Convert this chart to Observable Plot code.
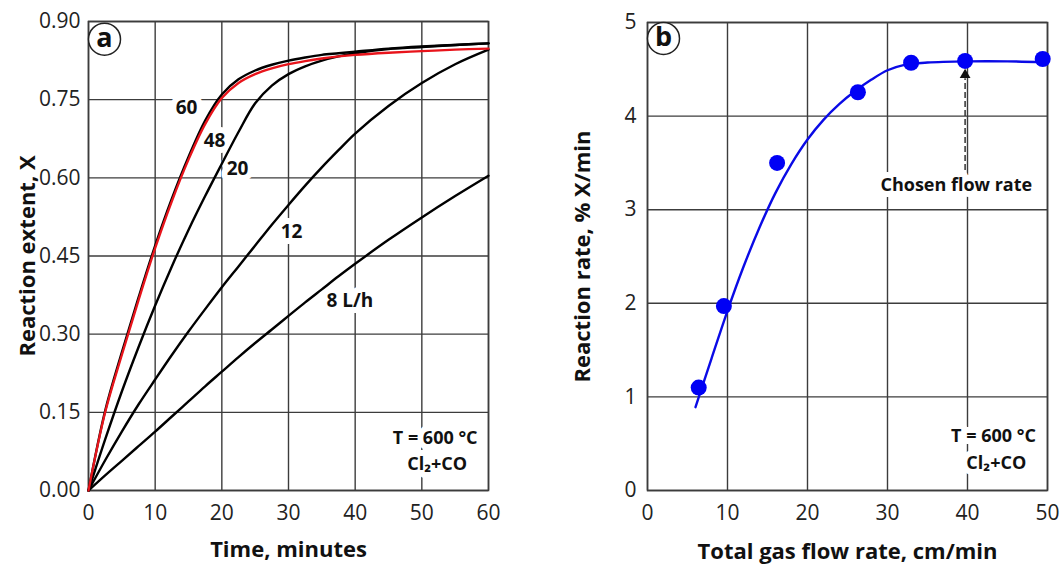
<!DOCTYPE html>
<html><head><meta charset="utf-8">
<script src="https://cdn.jsdelivr.net/npm/d3@7"></script>
<script src="https://cdn.jsdelivr.net/npm/@observablehq/plot@0.6"></script>
<style>
html,body{margin:0;padding:0;background:#fff;}
#wrap{position:relative;width:1061px;height:565px;overflow:hidden;background:#fff;}
#wrap svg{position:absolute;top:0;}
</style></head><body><div id="wrap"></div>
<script>
// ---------- Panel a: reaction extent vs time ----------
const timeA  = [0, 2.5, 5, 7.5, 10, 12.5, 15, 17.5, 20, 22.5, 25, 27.5, 30, 32.5, 35, 37.5, 40, 45, 50, 55, 60];
const flow60 = [0, 0.15, 0.26, 0.365, 0.465, 0.555, 0.635, 0.703, 0.753, 0.782, 0.799, 0.81, 0.818, 0.824, 0.829, 0.833, 0.836, 0.84, 0.843, 0.846, 0.848];
const flow48 = [0, 0.153, 0.265, 0.37, 0.47, 0.56, 0.64, 0.71, 0.76, 0.789, 0.806, 0.817, 0.825, 0.831, 0.836, 0.839, 0.842, 0.848, 0.852, 0.855, 0.858];
const flow20 = [0, 0.098, 0.19, 0.275, 0.355, 0.43, 0.50, 0.565, 0.627, 0.688, 0.743, 0.777, 0.799, 0.814, 0.825, 0.833, 0.839, 0.847, 0.851, 0.855, 0.858];
const flow12 = [0, 0.058, 0.113, 0.165, 0.213, 0.26, 0.305, 0.348, 0.39, 0.43, 0.47, 0.51, 0.548, 0.585, 0.62, 0.653, 0.685, 0.738, 0.782, 0.818, 0.846];
const flow8  = [0, 0.029, 0.057, 0.085, 0.113, 0.142, 0.171, 0.20, 0.228, 0.256, 0.283, 0.309, 0.335, 0.361, 0.386, 0.411, 0.435, 0.481, 0.524, 0.565, 0.604];
const xTicksA = [0, 10, 20, 30, 40, 50, 60];
const yTicksA = [0, 0.15, 0.30, 0.45, 0.60, 0.75, 0.90];
const curveLabelsA = [
  {t: 14.7, X: 0.734, label: "60"},
  {t: 18.9, X: 0.670, label: "48"},
  {t: 22.35, X: 0.617, label: "20"},
  {t: 30.45, X: 0.496, label: "12"},
  {t: 39.2, X: 0.364, label: "8 L/h"}
];
const condA = [
  {t: 52.0, X: 0.100, label: "T = 600 °C"},
  {t: 52.3, X: 0.050, label: "Cl₂+CO"}
];

// ---------- Panel b: reaction rate vs flow ----------
const flowPts = [6.4, 9.55, 16.2, 26.3, 32.95, 39.7, 49.4];
const ratePts = [1.10, 1.97, 3.50, 4.255, 4.57, 4.59, 4.61];
const fitFlow = [6, 8, 10, 12, 14, 16, 18, 20, 22, 24, 26, 28, 30, 32, 35, 40, 45, 49.5];
const fitRate = [0.89, 1.41, 1.92, 2.39, 2.81, 3.18, 3.49, 3.75, 3.96, 4.13, 4.27, 4.39, 4.49, 4.545, 4.572, 4.585, 4.585, 4.575];
const xTicksB = [0, 10, 20, 30, 40, 50];
const yTicksB = [0, 1, 2, 3, 4, 5];
const chosenFlow = 39.7;
const condB = [
  {f: 43.25, r: 0.577, label: "T = 600 °C"},
  {f: 43.6, r: 0.288, label: "Cl₂+CO"}
];

const blackSeries = [["8", flow8], ["12", flow12], ["20", flow20], ["48", flow48]];
const rowsBlack = blackSeries.flatMap(([s, vals]) => timeA.map((t, i) => ({s, t, X: vals[i]})));
const rowsRed = timeA.map((t, i) => ({s: "60", t, X: flow60[i]}));
const pts = flowPts.map((f, i) => ({f, r: ratePts[i]}));
const fit = fitFlow.map((f, i) => ({f, r: fitRate[i]}));

const GRID = "#3c3c3c";
const FONT = "'Open Sans', 'Noto Sans', sans-serif";
const baseStyle = {fontFamily: FONT, fontSize: "21px", color: "#222", background: "transparent", overflow: "visible"};
const titleOpts = {fontSize: 22, fontWeight: "bold", fill: "#111", textAnchor: "middle", lineAnchor: "middle"};
const noteOpts = {fontSize: 18, fontWeight: "bold", fill: "#111", stroke: "white", strokeWidth: 12};

const plotA = Plot.plot({
  width: 540, height: 565,
  marginLeft: 88, marginRight: 52, marginTop: 21, marginBottom: 75,
  style: baseStyle,
  x: {domain: [0, 60], label: null},
  y: {domain: [0, 0.9], label: null},
  marks: [
    Plot.gridX(xTicksA, {stroke: GRID, strokeOpacity: 1, strokeWidth: 1.4}),
    Plot.gridY(yTicksA, {stroke: GRID, strokeOpacity: 1, strokeWidth: 1.4}),
    Plot.frame({stroke: GRID, strokeWidth: 1.6}),
    Plot.axisX(xTicksA, {tickSize: 0, tickPadding: 15, label: null}),
    Plot.axisY(yTicksA, {tickSize: 0, tickPadding: 8, tickFormat: d3.format(".2f"), label: null}),
    Plot.text(["Time, minutes"], {frameAnchor: "bottom", dy: 59, ...titleOpts}),
    Plot.text(["Reaction extent, X"], {frameAnchor: "left", dx: -61, rotate: -90, ...titleOpts}),
    Plot.text(curveLabelsA, {x: "t", y: "X", text: "label", ...noteOpts, fontSize: 19}),
    Plot.text(condA, {x: "t", y: "X", text: "label", ...noteOpts}),
    Plot.line(rowsBlack, {x: "t", y: "X", z: "s", stroke: "#000", strokeWidth: 2.4, curve: "catmull-rom"}),
    Plot.line(rowsRed, {x: "t", y: "X", stroke: "#e8141b", strokeWidth: 2.3, curve: "catmull-rom"}),
    Plot.dot([{t: 2.4, X: 0.866}], {x: "t", y: "X", r: 16, fill: "white", stroke: "#222", strokeWidth: 1.5}),
    Plot.text([{t: 2.4, X: 0.866, label: "a"}], {x: "t", y: "X", text: "label", fontSize: 27, fontWeight: "bold", fill: "#111", dy: -1})
  ]
});

const plotB = Plot.plot({
  width: 521, height: 565,
  marginLeft: 107, marginRight: 14, marginTop: 22, marginBottom: 75,
  style: baseStyle,
  x: {domain: [0, 50], label: null},
  y: {domain: [0, 5], label: null},
  marks: [
    Plot.gridX(xTicksB, {stroke: GRID, strokeOpacity: 1, strokeWidth: 1.4}),
    Plot.gridY(yTicksB, {stroke: GRID, strokeOpacity: 1, strokeWidth: 1.4}),
    Plot.frame({stroke: GRID, strokeWidth: 1.6}),
    Plot.axisX(xTicksB, {tickSize: 0, tickPadding: 15, label: null}),
    Plot.axisY(yTicksB, {tickSize: 0, tickPadding: 11, tickFormat: d3.format("d"), label: null}),
    Plot.text(["Total gas flow rate, cm/min"], {frameAnchor: "bottom", dy: 61, ...titleOpts}),
    Plot.text(["Reaction rate, % X/min"], {frameAnchor: "left", dx: -65, rotate: -90, ...titleOpts}),
    Plot.text(condB, {x: "f", y: "r", text: "label", ...noteOpts}),
    Plot.text([{f: 38.6, r: 3.26, label: "Chosen flow rate"}], {x: "f", y: "r", text: "label", ...noteOpts}),
    Plot.ruleX([chosenFlow], {y1: 3.42, y2: 4.40, stroke: "#333", strokeWidth: 1.5, strokeDasharray: "6,3"}),
    Plot.dot([chosenFlow], {x: d => d, y: () => 4.44, symbol: "triangle", r: 4, fill: "#111", stroke: "none"}),
    Plot.line(fit, {x: "f", y: "r", stroke: "#0a0ae6", strokeWidth: 2.4, curve: "catmull-rom"}),
    Plot.dot(pts, {x: "f", y: "r", r: 8, fill: "#0000f5", stroke: "none"}),
    Plot.dot([{f: 2.0, r: 4.83}], {x: "f", y: "r", r: 16, fill: "white", stroke: "#222", strokeWidth: 1.5}),
    Plot.text([{f: 2.0, r: 4.83, label: "b"}], {x: "f", y: "r", text: "label", fontSize: 27, fontWeight: "bold", fill: "#111", dy: -1})
  ]
});

const wrap = document.getElementById("wrap");
plotA.style.left = "0px";
plotB.style.left = "540px";
wrap.appendChild(plotA);
wrap.appendChild(plotB);
</script>
</body></html>
